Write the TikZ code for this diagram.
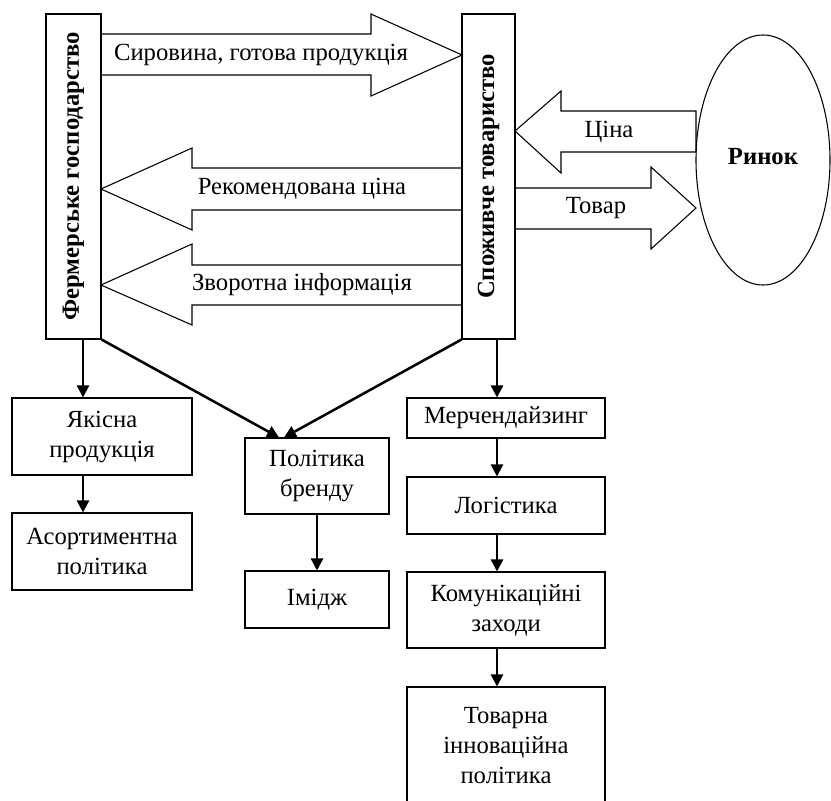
\documentclass[tikz,border=0pt]{standalone}
\usepackage{fontspec}
\setmainfont{Liberation Serif}
\usepackage{tikz}
\usetikzlibrary{arrows.meta,shapes.geometric}

\tikzset{
  box/.style={draw, line width=0.8pt, inner sep=0pt, align=center},
  flow/.style={line width=1.9pt, -{Triangle[length=9pt,width=9pt]}},
  blockarrow/.style={draw, line width=0.8pt}
}

\begin{document}
\begin{tikzpicture}[x=0.75pt, y=-0.75pt, font=\fontsize{18.5}{22.5}\selectfont]
 \useasboundingbox (0,0) rectangle (831,800);

 % the two partners
 \node (ferm) at (73.5,176.5) [box, minimum width=41.25pt, minimum height=243.75pt] {\rotatebox{90}{\bfseries Фермерське господарство}};
 \node (spoz) at (488.5,176.5) [box, minimum width=39.75pt, minimum height=243.75pt] {\rotatebox{90}{\bfseries Споживче товариство}};
 \node (rynok) at (763,160) [ellipse, draw, line width=0.8pt, inner sep=0pt, minimum width=100.5pt, minimum height=187.5pt] {\raisebox{5pt}{\bfseries Ринок}};

 % block arrows
 \draw [blockarrow] (101,34) -- (371,34) -- (371,14) -- (462,55) -- (371,96) -- (371,75) -- (101,75);
 \node (sir) at (261,55) {Сировина, готова продукція};
 \draw [blockarrow] (462,168) -- (192,168) -- (192,148) -- (101,189) -- (192,230) -- (192,210) -- (462,210);
 \node (rek) at (302,189) {Рекомендована ціна};
 \draw [blockarrow] (462,265) -- (192,265) -- (192,244) -- (101,285) -- (192,325) -- (192,305) -- (462,305);
 \node (zvor) at (302,285) {Зворотна інформація};
 \draw [blockarrow] (696,111) -- (561,111) -- (561,91) -- (515,131) -- (561,173) -- (561,152) -- (696,152) -- cycle;
 \node (tsina) at (609,132) {Ціна};
 \draw [blockarrow] (515,188) -- (651,188) -- (651,167) -- (696,208) -- (651,249) -- (651,229) -- (515,229);
 \node (tovar) at (596,208) {Товар};

 % lower boxes
 \node (yakisna) at (102,436.5) [box, minimum width=135pt, minimum height=57.75pt] {Якісна\\продукція};
 \node (asort) at (102,551.5) [box, minimum width=135pt, minimum height=57.75pt] {Асортиментна\\політика};
 \node (brend) at (317,476) [box, minimum width=108pt, minimum height=57pt] {Політика\\бренду};
 \node (imidzh) at (317,599.5) [box, minimum width=108pt, minimum height=42.75pt] {Імідж};
 \node (merch) at (506,418) [box, minimum width=148.5pt, minimum height=30pt] {Мерчендайзинг};
 \node (logist) at (506,505.5) [box, minimum width=148.5pt, minimum height=42.75pt] {Логістика};
 \node (komun) at (506,610) [box, minimum width=148.5pt, minimum height=57pt] {Комунікаційні\\заходи};
 \node (tovarna) at (506,746) [box, minimum width=148.5pt, minimum height=88.5pt] {Товарна\\інноваційна\\політика};

 \coordinate (lx) at (83,0);
 \coordinate (rx) at (497,0);
 \draw [flow] (ferm.south -| lx) -- (yakisna.north -| lx);
 \draw [flow] (yakisna.south -| lx) -- (asort.north -| lx);
 \draw [flow] (ferm.south east) -- (brend.north -| 279,0);
 \draw [flow] (spoz.south west) -- (brend.north -| 284,0);
 \draw [flow] (brend) -- (imidzh);
 \draw [flow] (spoz.south -| rx) -- (merch.north -| rx);
 \draw [flow] (merch.south -| rx) -- (logist.north -| rx);
 \draw [flow] (logist.south -| rx) -- (komun.north -| rx);
 \draw [flow] (komun.south -| rx) -- (tovarna.north -| rx);
\end{tikzpicture}
\end{document}
